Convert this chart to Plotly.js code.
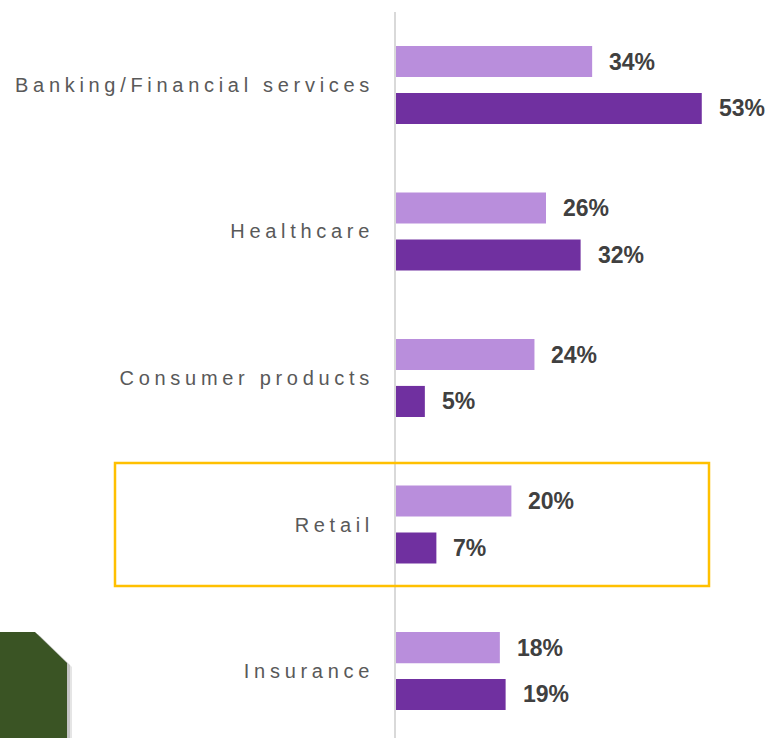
<!DOCTYPE html>
<html>
<head>
<meta charset="utf-8">
<script src="https://cdn.plot.ly/plotly-3.0.1.min.js"></script>
<style>
  html, body { margin: 0; padding: 0; background: #fff; }
  #graph1 { width: 771px; height: 738px; }
  .yaxislayer-above text { letter-spacing: 4.7px; }
</style>
</head>
<body>
<div id="graph1"></div>
<script>
let CATEGORIES = ["Banking/Financial services", "Healthcare", "Consumer products", "Retail", "Insurance"]
let SERIES_A = [34, 26, 24, 20, 18]   // light purple
let SERIES_B = [53, 32, 5, 7, 19]     // dark purple
let COLOR_A = "#B98EDC"
let COLOR_B = "#7030A0"

let BAR_W = 0.212
let SHIFT = 0.16

function init_graph() {
  let idx = CATEGORIES.map((c, i) => i)

  let trace_a = {
    type: "bar", orientation: "h",
    x: SERIES_A, y: idx,
    width: BAR_W, offset: -SHIFT - BAR_W / 2,
    marker: { color: COLOR_A },
    hoverinfo: "none"
  }
  let trace_b = {
    type: "bar", orientation: "h",
    x: SERIES_B, y: idx,
    width: BAR_W, offset: SHIFT - BAR_W / 2,
    marker: { color: COLOR_B },
    hoverinfo: "none"
  }

  // value labels next to the bars
  let annotations = []
  let add_labels = function (values, dy) {
    values.forEach((v, i) => {
      annotations.push({
        x: v, y: i + dy, xref: "x", yref: "y",
        text: v + "%", showarrow: false,
        xanchor: "left", yanchor: "middle", xshift: 15,
        font: { family: "Liberation Sans, Arial, sans-serif", size: 23, color: "#404040", weight: "bold" }
      })
    })
  }
  add_labels(SERIES_A, -SHIFT)
  add_labels(SERIES_B, SHIFT)

  // pixel -> paper helpers (plot area: x 396..771, y 12..738)
  let px = v => (v - 396) / 375
  let py = v => (738 - v) / 726

  let green_path = function (dx, dy) {
    return "M " + px(0 + dx) + " " + py(632 + dy) +
      " L " + px(35 + dx) + " " + py(632 + dy) +
      " L " + px(67 + dx) + " " + py(663 + dy) +
      " L " + px(67 + dx) + " " + py(740) +
      " L " + px(0 + dx) + " " + py(740) + " Z"
  }

  let shapes = [
    { type: "path", xref: "paper", yref: "paper", path: green_path(5, 4),
      fillcolor: "rgba(0,0,0,0.10)", line: { width: 0 }, layer: "above" },
    { type: "path", xref: "paper", yref: "paper", path: green_path(3, 2),
      fillcolor: "rgba(0,0,0,0.14)", line: { width: 0 }, layer: "above" },
    { type: "path", xref: "paper", yref: "paper", path: green_path(0, 0),
      fillcolor: "#3A5424", line: { width: 0 }, layer: "above" },
    { type: "rect", xref: "paper", yref: "paper",
      x0: px(115), x1: px(709), y0: py(586), y1: py(463),
      line: { color: "#FFC000", width: 2.5 }, fillcolor: "rgba(0,0,0,0)", layer: "above" }
  ]

  let layout = {
    width: 771, height: 738,
    margin: { l: 396, r: 0, t: 12, b: 0 },
    paper_bgcolor: "#ffffff", plot_bgcolor: "#ffffff",
    showlegend: false,
    barmode: "overlay",
    xaxis: {
      range: [0, 65], showgrid: false, zeroline: false,
      showticklabels: false, showline: false, fixedrange: true
    },
    yaxis: {
      range: [4.457, -0.498], autorange: false,
      tickmode: "array", tickvals: idx, ticktext: CATEGORIES,
      showgrid: false, zeroline: false,
      showline: true, linecolor: "#D9D9D9", linewidth: 2,
      ticks: "", ticklabelstandoff: 16,
      tickfont: { family: "Liberation Sans, Arial, sans-serif", size: 20, color: "#595959" },
      fixedrange: true
    },
    annotations: annotations,
    shapes: shapes
  }

  Plotly.newPlot("graph1", [trace_a, trace_b], layout, { displayModeBar: false, staticPlot: true })
}

init_graph()
</script>
</body>
</html>
